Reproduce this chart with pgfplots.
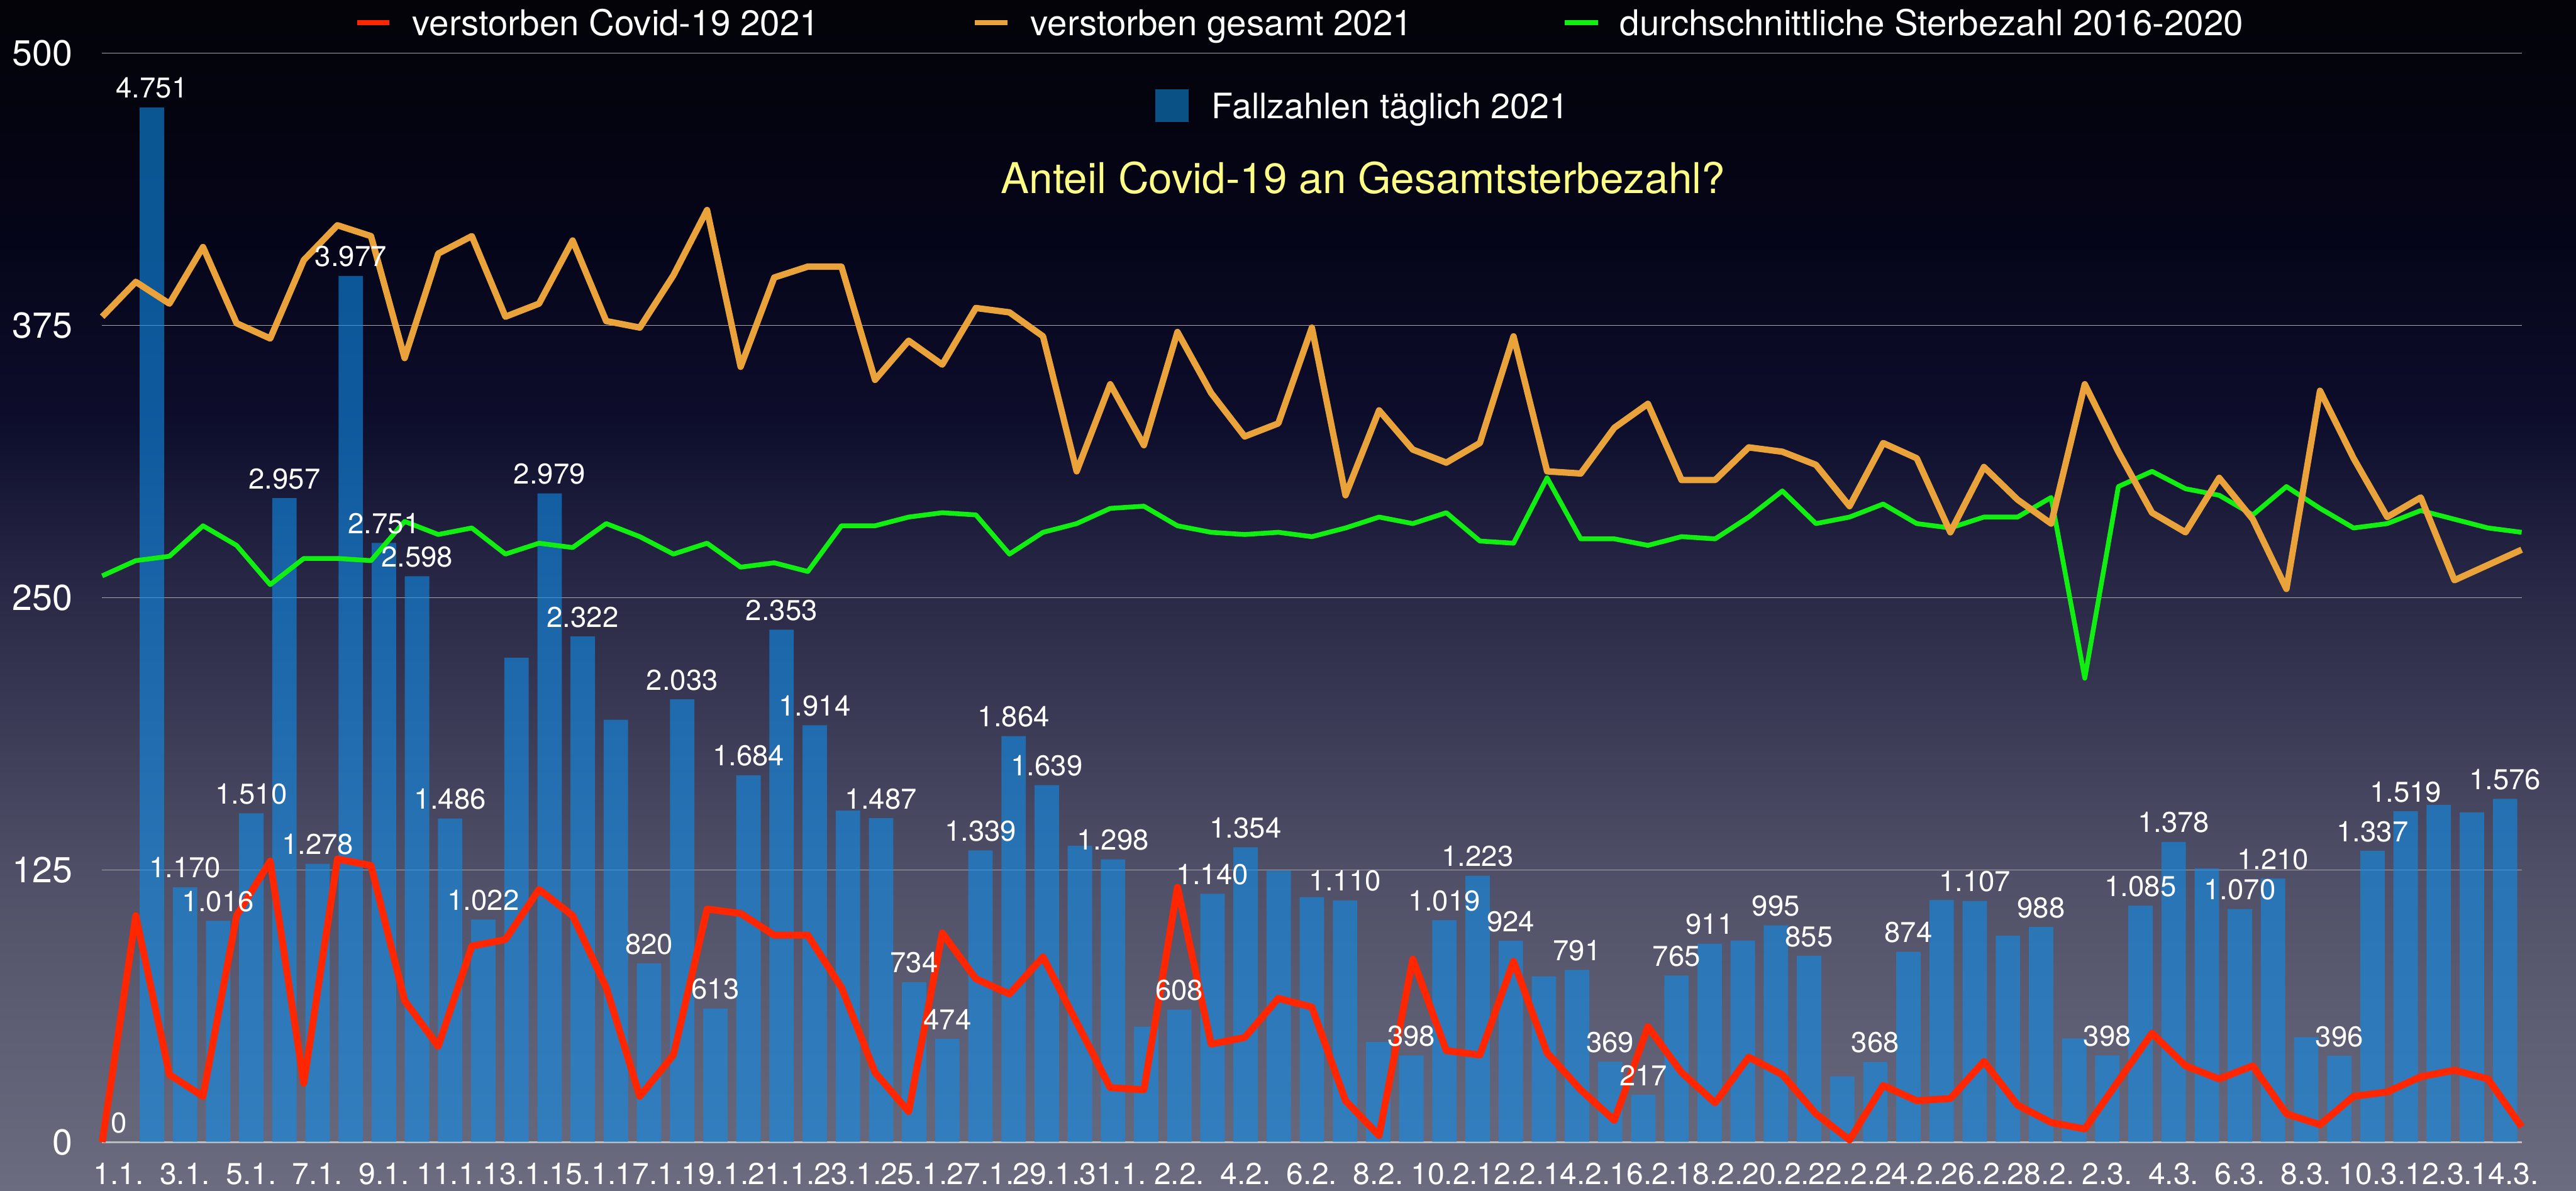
\documentclass[border=0pt]{standalone}
\usepackage{pgfplots}
\pgfplotsset{compat=1.18}
\usepackage{pgfplotstable}
\usepackage{fontspec}
\setmainfont{TeX Gyre Heros}

\definecolor{bgbot}{RGB}{108,108,128}
\definecolor{bgm1}{RGB}{80,80,104}
\definecolor{bgm2}{RGB}{40,40,70}
\definecolor{bgm3}{RGB}{14,14,45}
\definecolor{bgm4}{RGB}{5,5,25}
\definecolor{bgtop}{RGB}{3,3,8}
\definecolor{barblue}{RGB}{15,141,233}
\definecolor{legblue}{RGB}{10,82,134}
\definecolor{covidred}{RGB}{255,38,0}
\definecolor{gesorange}{RGB}{233,163,58}
\definecolor{avggreen}{RGB}{17,238,17}
\definecolor{gridgray}{RGB}{165,165,170}
\definecolor{axgray}{RGB}{190,190,190}
\definecolor{titleyellow}{RGB}{255,255,136}

\pgfdeclareverticalshading{bgshade}{100bp}{color(0bp)=(bgbot); color(25bp)=(bgbot); color(38bp)=(bgm1); color(50.5bp)=(bgm2); color(57bp)=(bgm3); color(65bp)=(bgm4); color(75bp)=(bgtop); color(100bp)=(bgtop)}

\pgfplotstableread{
d v lab
0 0 0
1 4751 4.751
2 1170 1.170
3 1016 1.016
4 1510 1.510
5 2957 2.957
6 1278 1.278
7 3977 3.977
8 2751 2.751
9 2598 2.598
10 1486 1.486
11 1022 1.022
12 2224 {}
13 2979 2.979
14 2322 2.322
15 1939 {}
16 820 820
17 2033 2.033
18 613 613
19 1684 1.684
20 2353 2.353
21 1914 1.914
22 1522 {}
23 1487 1.487
24 734 734
25 474 474
26 1339 1.339
27 1864 1.864
28 1639 1.639
29 1360 {}
30 1298 1.298
31 530 {}
32 608 608
33 1140 1.140
34 1354 1.354
35 1246 {}
36 1125 {}
37 1110 1.110
38 459 {}
39 398 398
40 1019 1.019
41 1223 1.223
42 924 924
43 761 {}
44 791 791
45 369 369
46 217 217
47 765 765
48 911 911
49 926 {}
50 995 995
51 855 855
52 302 {}
53 368 368
54 874 874
55 1111 {}
56 1107 1.107
57 947 {}
58 988 988
59 476 {}
60 398 398
61 1085 1.085
62 1378 1.378
63 1256 {}
64 1070 1.070
65 1210 1.210
66 482 {}
67 396 396
68 1337 1.337
69 1519 1.519
70 1548 {}
71 1514 {}
72 1576 1.576
}\bartab

\pgfplotstableread{
k covid gesamt avg
0 0 379 260
1 104 395 267
2 31 385 269
3 21 411 283
4 104 376 274
5 129 369 256
6 27 405 268
7 130 421 268
8 127 416 267
9 65 360 285
10 44 408 279
11 90 416 282
12 93 379 270
13 116 385 275
14 104 414 273
15 71 377 284
16 21 374 278
17 40 398 270
18 107 428 275
19 105 356 264
20 95 397 266
21 95 402 262
22 71 402 283
23 32 350 283
24 14 368 287
25 96 357 289
26 75 383 288
27 68 381 270
28 85 370 280
29 55 308 284
30 25 348 291
31 24 320 292
32 117 372 283
33 45 344 280
34 48 324 279
35 66 330 280
36 62 374 278
37 19 297 282
38 3 336 287
39 84 318 284
40 42 312 289
41 40 321 276
42 83 370 275
43 41 308 305
44 24 307 277
45 10 328 277
46 53 339 274
47 32 304 278
48 18 304 277
49 39 319 287
50 31 317 299
51 13 311 284
52 1 292 287
53 26 321 293
54 19 314 284
55 20 280 282
56 37 310 287
57 17 295 287
58 9 284 296
59 6 348 213
60 28 317 301
61 50 289 308
62 35 280 300
63 29 305 297
64 35 286 288
65 13 254 301
66 8 345 291
67 21 314 282
68 23 287 284
69 30 296 290
70 33 258 286
71 29 265 282
72 7 272 280
}\linetab

\begin{document}
\begin{tikzpicture}
\useasboundingbox (0,0) rectangle (485.5pt,224.4pt);
\clip (0,0) rectangle (485.5pt,224.4pt);
\shade[shading=bgshade] (0,0) rectangle (485.5pt,224.4pt);
\begin{axis}[
  at={(19.26pt,9.12pt)}, anchor=south west,
  scale only axis, width=456pt, height=205.25pt,
  xmin=0, xmax=73, ymin=0, ymax=500,
  clip=false,
  axis lines*=left,
  x axis line style={-, draw=axgray, line width=0.35pt},
  y axis line style={draw=none},
  ytick={0,125,250,375,500},
  ymajorgrids,
  major grid style={draw=gridgray, line width=0.17pt},
  xtick={0.5,2.5,...,72.5},
  xticklabels={1.1.,3.1.,5.1.,7.1.,9.1.,11.1.,13.1.,15.1.,17.1.,19.1.,21.1.,23.1.,25.1.,27.1.,29.1.,31.1.,2.2.,4.2.,6.2.,8.2.,10.2.,12.2.,14.2.,16.2.,18.2.,20.2.,22.2.,24.2.,26.2.,28.2.,2.3.,4.3.,6.3.,8.3.,10.3.,12.3.,14.3.},
  major tick length=0pt,
  tick style={draw=none},
  /pgf/number format/assume math mode=true,
  yticklabel style={font=\fontsize{6.8}{8}\selectfont, text=white, inner sep=0pt, anchor=east, xshift=-5.4pt},
  xticklabel style={font=\fontsize{5.7}{6.5}\selectfont, text=white, inner sep=0pt, anchor=base, yshift=-8pt},
]
\addplot[ybar, bar width=4.6pt, bar shift=0pt, draw=none, fill=barblue, fill opacity=0.6,
  point meta=explicit symbolic,
  nodes near coords={\pgfplotspointmeta},
  every node near coord/.append style={font=\fontsize{5.4}{6}\selectfont, text=white, text opacity=1, inner sep=0pt, anchor=south, yshift=1.5pt}]
  table[x expr=\thisrow{d}+0.5, y expr=\thisrow{v}/10, meta=lab] {\bartab};
\addplot[avggreen, line width=0.9pt, line join=round, mark=none] table[x expr=\thisrow{k}*73/72, y=avg] {\linetab};
\addplot[gesorange, line width=1.2pt, line join=round, mark=none] table[x expr=\thisrow{k}*73/72, y=gesamt] {\linetab};
\addplot[covidred, line width=1.3pt, line join=round, mark=none] table[x expr=\thisrow{k}*73/72, y=covid] {\linetab};
\end{axis}
% legend
\draw[covidred, line width=0.9pt] (67.3pt,220.1pt) -- (73.4pt,220.1pt);
\node[anchor=base west, inner sep=0pt, text=white, font=\fontsize{6.7}{8}\selectfont] at (77.5pt,217.7pt) {verstorben Covid-19 2021};
\draw[gesorange, line width=0.9pt] (183.7pt,220.1pt) -- (189.9pt,220.1pt);
\node[anchor=base west, inner sep=0pt, text=white, font=\fontsize{6.7}{8}\selectfont] at (194.0pt,217.7pt) {verstorben gesamt 2021};
\draw[avggreen, line width=0.9pt] (294.9pt,220.1pt) -- (301.2pt,220.1pt);
\node[anchor=base west, inner sep=0pt, text=white, font=\fontsize{6.7}{8}\selectfont] at (305.1pt,217.7pt) {durchschnittliche Sterbezahl 2016-2020};
\fill[legblue] (217.7pt,201.4pt) rectangle (224.0pt,207.6pt);
\node[anchor=base west, inner sep=0pt, text=white, font=\fontsize{6.6}{8}\selectfont] at (228.2pt,202.0pt) {Fallzahlen täglich 2021};
\node[anchor=base, inner sep=0pt, text=titleyellow, font=\fontsize{8}{9.6}\selectfont] at (256.9pt,187.9pt) {Anteil Covid-19 an Gesamtsterbezahl?};
\end{tikzpicture}
\end{document}
